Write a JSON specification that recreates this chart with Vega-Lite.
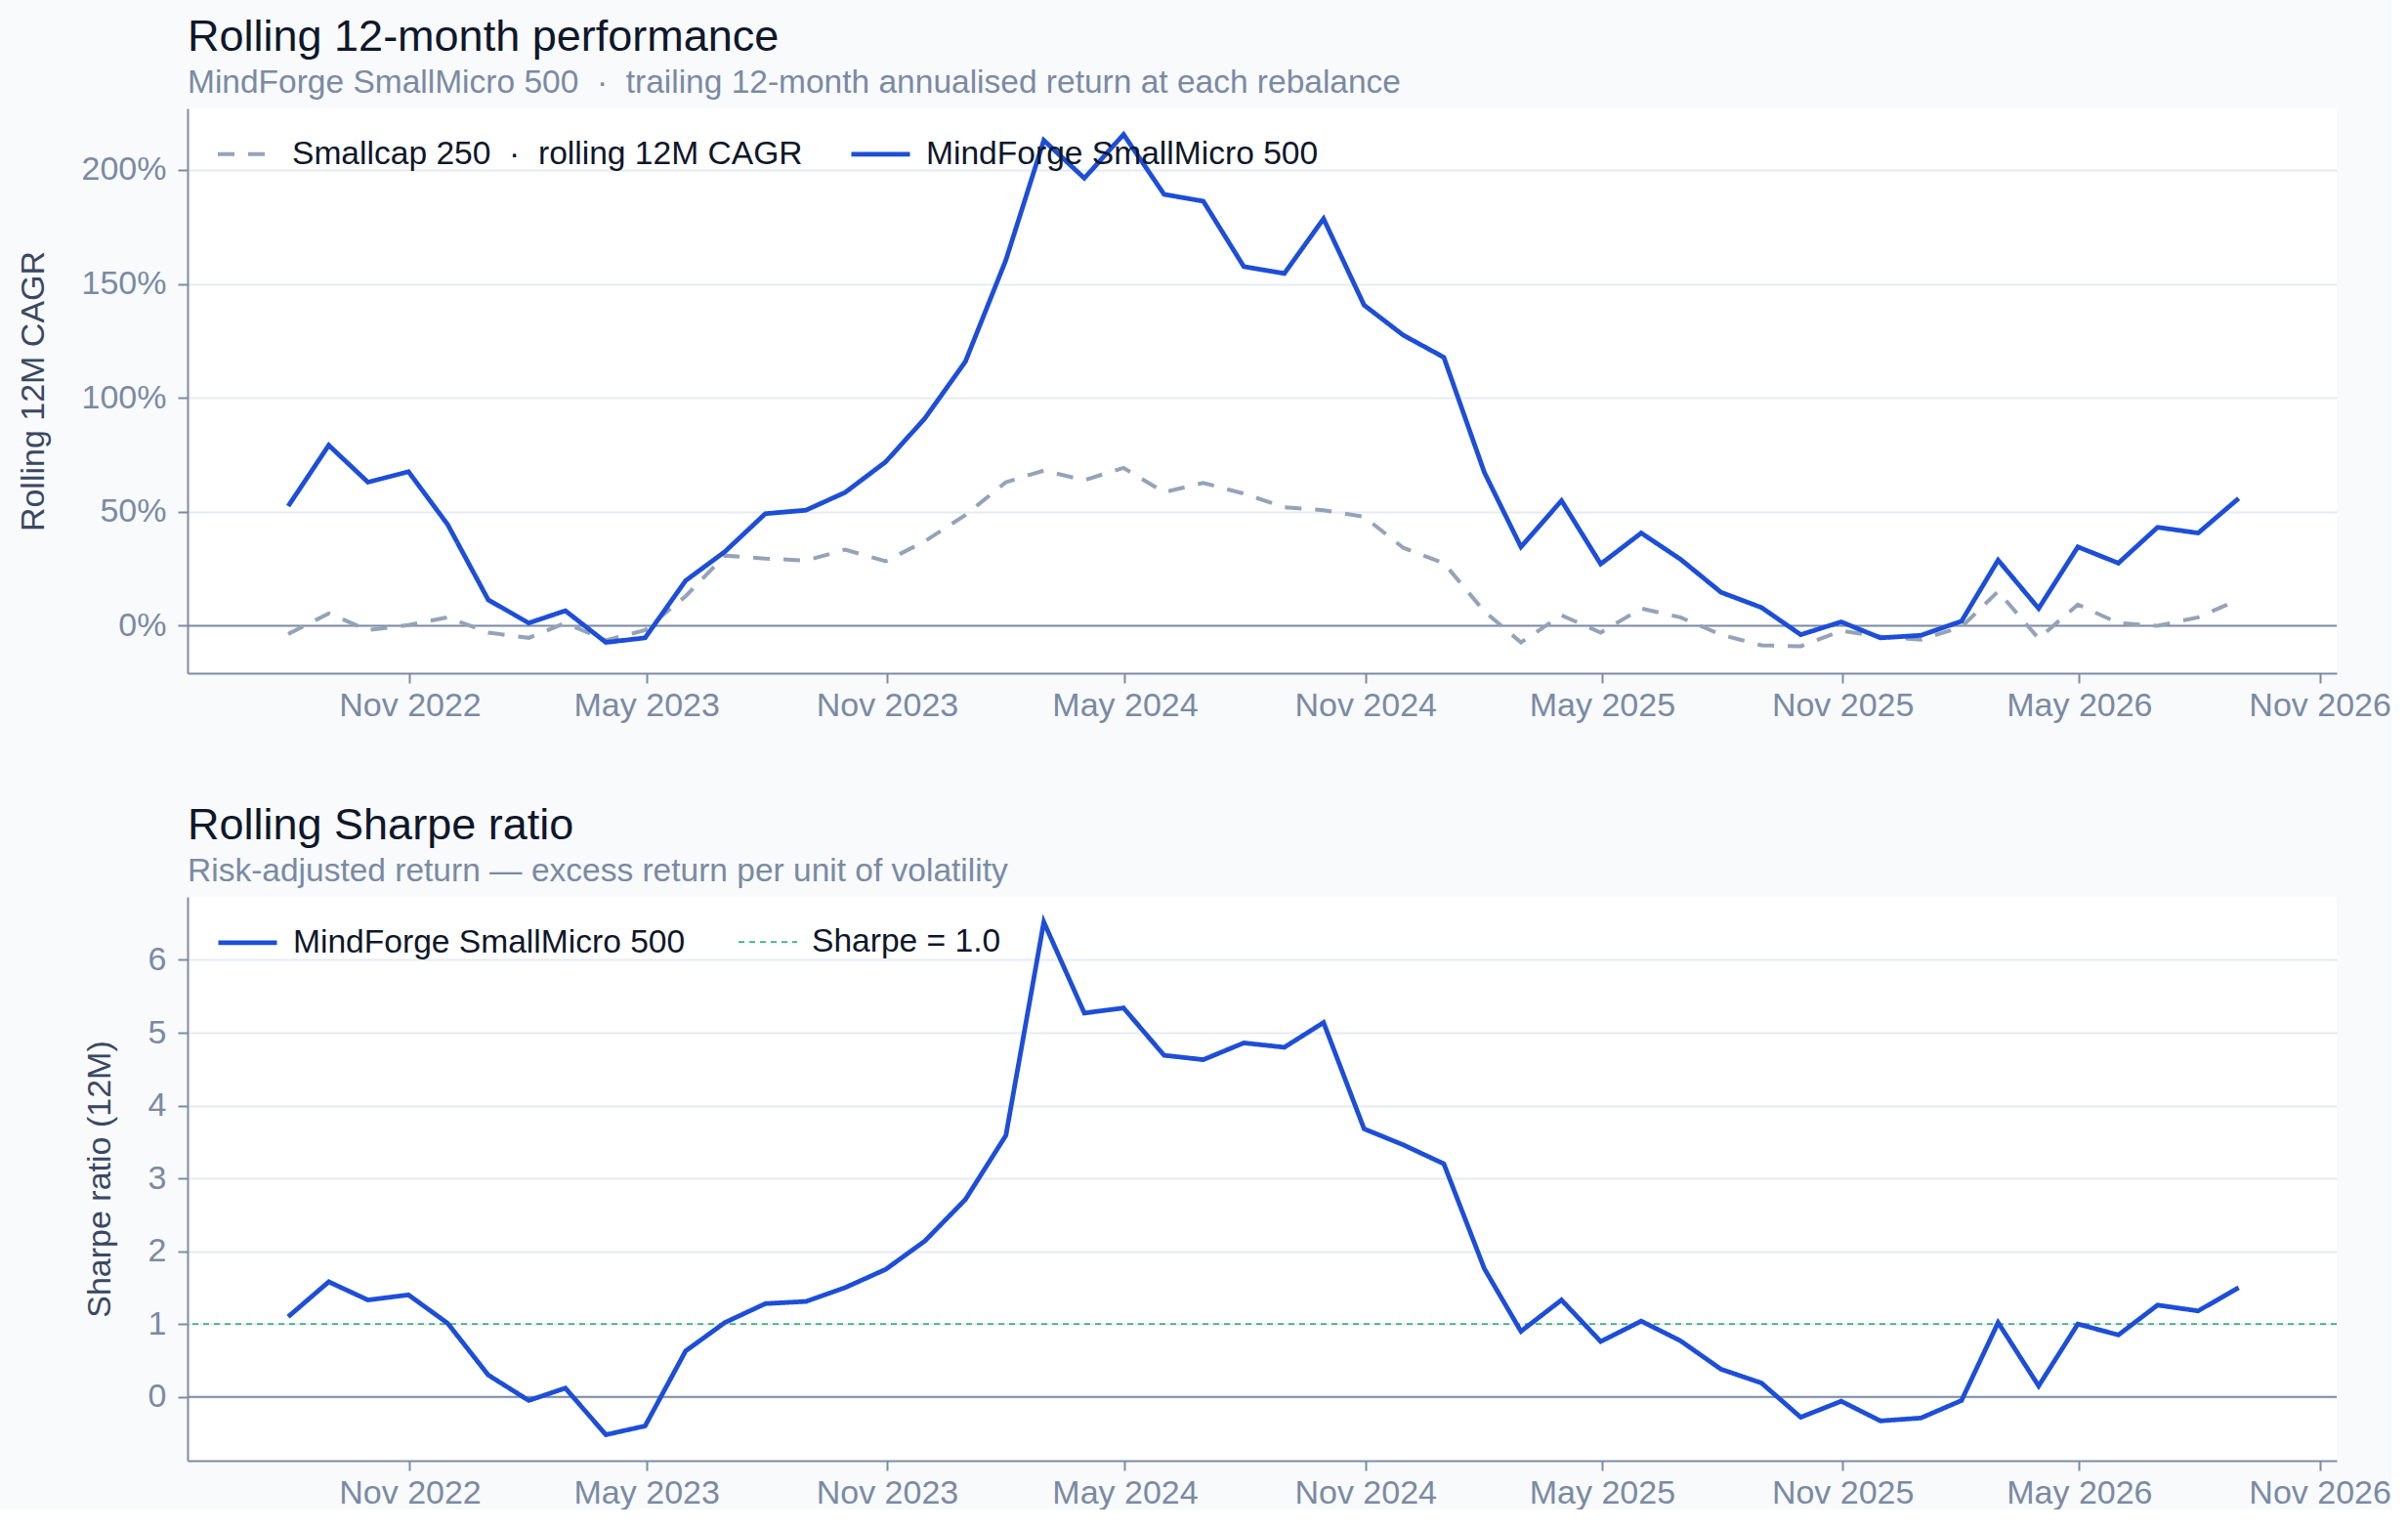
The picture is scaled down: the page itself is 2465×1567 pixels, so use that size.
{
  "$schema": "https://vega.github.io/schema/vega-lite/v6.json",
  "background": "#f8fafc",
  "padding": {"left": 17, "top": 15, "right": 0, "bottom": 0},
  "config": {
    "font": "Liberation Sans",
    "view": {"fill": "#ffffff", "stroke": null},
    "title": {"anchor": "start", "frame": "group", "fontSize": 45, "fontWeight": "normal", "color": "#0f172a", "subtitleFontSize": 33.5, "subtitleColor": "#7b8aa3", "subtitlePadding": 8, "offset": 10},
    "axis": {"domainColor": "#7e8ca3", "domainWidth": 2, "tickColor": "#7e8ca3", "tickWidth": 2, "tickSize": 10, "labelColor": "#7b8aa3", "labelFontSize": 34, "labelPadding": 12, "titleColor": "#3b4863", "titleFontSize": 34, "titleFontWeight": "normal", "titlePadding": 32, "gridColor": "#e6ebf2", "gridWidth": 2},
    "legend": {"title": null, "orient": "none", "legendX": 29, "legendY": 14, "direction": "horizontal", "symbolType": "stroke", "symbolSize": 3600, "labelFontSize": 33.6, "labelColor": "#0f172a", "labelOffset": 14, "columnPadding": 50, "labelLimit": 0},
    "concat": {"spacing": 83}
  },
  "resolve": {
    "scale": {"color": "independent", "strokeDash": "independent", "strokeWidth": "independent"},
    "legend": {"color": "independent", "strokeDash": "independent", "strokeWidth": "independent"}
  },
  "datasets": {
    "cagr": [
      {"date": "2022-07-31", "series": "Smallcap 250\u00a0\u00a0·\u00a0\u00a0rolling 12M CAGR", "value": -3.6},
      {"date": "2022-08-31", "series": "Smallcap 250\u00a0\u00a0·\u00a0\u00a0rolling 12M CAGR", "value": 5.4},
      {"date": "2022-09-30", "series": "Smallcap 250\u00a0\u00a0·\u00a0\u00a0rolling 12M CAGR", "value": -1.9},
      {"date": "2022-10-31", "series": "Smallcap 250\u00a0\u00a0·\u00a0\u00a0rolling 12M CAGR", "value": 0.3},
      {"date": "2022-11-30", "series": "Smallcap 250\u00a0\u00a0·\u00a0\u00a0rolling 12M CAGR", "value": 3.7},
      {"date": "2022-12-31", "series": "Smallcap 250\u00a0\u00a0·\u00a0\u00a0rolling 12M CAGR", "value": -3.0},
      {"date": "2023-01-31", "series": "Smallcap 250\u00a0\u00a0·\u00a0\u00a0rolling 12M CAGR", "value": -5.3},
      {"date": "2023-02-28", "series": "Smallcap 250\u00a0\u00a0·\u00a0\u00a0rolling 12M CAGR", "value": 1.2},
      {"date": "2023-03-31", "series": "Smallcap 250\u00a0\u00a0·\u00a0\u00a0rolling 12M CAGR", "value": -6.4},
      {"date": "2023-04-30", "series": "Smallcap 250\u00a0\u00a0·\u00a0\u00a0rolling 12M CAGR", "value": -1.9},
      {"date": "2023-05-31", "series": "Smallcap 250\u00a0\u00a0·\u00a0\u00a0rolling 12M CAGR", "value": 13.0},
      {"date": "2023-06-30", "series": "Smallcap 250\u00a0\u00a0·\u00a0\u00a0rolling 12M CAGR", "value": 30.8},
      {"date": "2023-07-31", "series": "Smallcap 250\u00a0\u00a0·\u00a0\u00a0rolling 12M CAGR", "value": 29.5},
      {"date": "2023-08-31", "series": "Smallcap 250\u00a0\u00a0·\u00a0\u00a0rolling 12M CAGR", "value": 28.6},
      {"date": "2023-09-30", "series": "Smallcap 250\u00a0\u00a0·\u00a0\u00a0rolling 12M CAGR", "value": 33.4},
      {"date": "2023-10-31", "series": "Smallcap 250\u00a0\u00a0·\u00a0\u00a0rolling 12M CAGR", "value": 28.3},
      {"date": "2023-11-30", "series": "Smallcap 250\u00a0\u00a0·\u00a0\u00a0rolling 12M CAGR", "value": 37.1},
      {"date": "2023-12-31", "series": "Smallcap 250\u00a0\u00a0·\u00a0\u00a0rolling 12M CAGR", "value": 48.6},
      {"date": "2024-01-31", "series": "Smallcap 250\u00a0\u00a0·\u00a0\u00a0rolling 12M CAGR", "value": 63.0},
      {"date": "2024-02-29", "series": "Smallcap 250\u00a0\u00a0·\u00a0\u00a0rolling 12M CAGR", "value": 68.1},
      {"date": "2024-03-31", "series": "Smallcap 250\u00a0\u00a0·\u00a0\u00a0rolling 12M CAGR", "value": 63.9},
      {"date": "2024-04-30", "series": "Smallcap 250\u00a0\u00a0·\u00a0\u00a0rolling 12M CAGR", "value": 69.3},
      {"date": "2024-05-31", "series": "Smallcap 250\u00a0\u00a0·\u00a0\u00a0rolling 12M CAGR", "value": 58.6},
      {"date": "2024-06-30", "series": "Smallcap 250\u00a0\u00a0·\u00a0\u00a0rolling 12M CAGR", "value": 62.7},
      {"date": "2024-07-31", "series": "Smallcap 250\u00a0\u00a0·\u00a0\u00a0rolling 12M CAGR", "value": 58.0},
      {"date": "2024-08-31", "series": "Smallcap 250\u00a0\u00a0·\u00a0\u00a0rolling 12M CAGR", "value": 52.0},
      {"date": "2024-09-30", "series": "Smallcap 250\u00a0\u00a0·\u00a0\u00a0rolling 12M CAGR", "value": 50.7},
      {"date": "2024-10-31", "series": "Smallcap 250\u00a0\u00a0·\u00a0\u00a0rolling 12M CAGR", "value": 47.8},
      {"date": "2024-11-30", "series": "Smallcap 250\u00a0\u00a0·\u00a0\u00a0rolling 12M CAGR", "value": 34.2},
      {"date": "2024-12-31", "series": "Smallcap 250\u00a0\u00a0·\u00a0\u00a0rolling 12M CAGR", "value": 27.5},
      {"date": "2025-01-31", "series": "Smallcap 250\u00a0\u00a0·\u00a0\u00a0rolling 12M CAGR", "value": 6.3},
      {"date": "2025-02-28", "series": "Smallcap 250\u00a0\u00a0·\u00a0\u00a0rolling 12M CAGR", "value": -7.3},
      {"date": "2025-03-31", "series": "Smallcap 250\u00a0\u00a0·\u00a0\u00a0rolling 12M CAGR", "value": 4.6},
      {"date": "2025-04-30", "series": "Smallcap 250\u00a0\u00a0·\u00a0\u00a0rolling 12M CAGR", "value": -3.0},
      {"date": "2025-05-31", "series": "Smallcap 250\u00a0\u00a0·\u00a0\u00a0rolling 12M CAGR", "value": 7.6},
      {"date": "2025-06-30", "series": "Smallcap 250\u00a0\u00a0·\u00a0\u00a0rolling 12M CAGR", "value": 3.7},
      {"date": "2025-07-31", "series": "Smallcap 250\u00a0\u00a0·\u00a0\u00a0rolling 12M CAGR", "value": -3.9},
      {"date": "2025-08-31", "series": "Smallcap 250\u00a0\u00a0·\u00a0\u00a0rolling 12M CAGR", "value": -8.6},
      {"date": "2025-09-30", "series": "Smallcap 250\u00a0\u00a0·\u00a0\u00a0rolling 12M CAGR", "value": -9.0},
      {"date": "2025-10-31", "series": "Smallcap 250\u00a0\u00a0·\u00a0\u00a0rolling 12M CAGR", "value": -2.2},
      {"date": "2025-11-30", "series": "Smallcap 250\u00a0\u00a0·\u00a0\u00a0rolling 12M CAGR", "value": -4.7},
      {"date": "2025-12-31", "series": "Smallcap 250\u00a0\u00a0·\u00a0\u00a0rolling 12M CAGR", "value": -6.1},
      {"date": "2026-01-31", "series": "Smallcap 250\u00a0\u00a0·\u00a0\u00a0rolling 12M CAGR", "value": -0.5},
      {"date": "2026-02-28", "series": "Smallcap 250\u00a0\u00a0·\u00a0\u00a0rolling 12M CAGR", "value": 15.1},
      {"date": "2026-03-31", "series": "Smallcap 250\u00a0\u00a0·\u00a0\u00a0rolling 12M CAGR", "value": -5.6},
      {"date": "2026-04-30", "series": "Smallcap 250\u00a0\u00a0·\u00a0\u00a0rolling 12M CAGR", "value": 9.3},
      {"date": "2026-05-31", "series": "Smallcap 250\u00a0\u00a0·\u00a0\u00a0rolling 12M CAGR", "value": 1.2},
      {"date": "2026-06-30", "series": "Smallcap 250\u00a0\u00a0·\u00a0\u00a0rolling 12M CAGR", "value": 0.0},
      {"date": "2026-07-31", "series": "Smallcap 250\u00a0\u00a0·\u00a0\u00a0rolling 12M CAGR", "value": 3.7},
      {"date": "2026-08-31", "series": "Smallcap 250\u00a0\u00a0·\u00a0\u00a0rolling 12M CAGR", "value": 11.4},
      {"date": "2022-07-31", "series": "MindForge SmallMicro 500", "value": 52.5},
      {"date": "2022-08-31", "series": "MindForge SmallMicro 500", "value": 79.2},
      {"date": "2022-09-30", "series": "MindForge SmallMicro 500", "value": 63.0},
      {"date": "2022-10-31", "series": "MindForge SmallMicro 500", "value": 67.6},
      {"date": "2022-11-30", "series": "MindForge SmallMicro 500", "value": 44.4},
      {"date": "2022-12-31", "series": "MindForge SmallMicro 500", "value": 11.4},
      {"date": "2023-01-31", "series": "MindForge SmallMicro 500", "value": 1.2},
      {"date": "2023-02-28", "series": "MindForge SmallMicro 500", "value": 6.6},
      {"date": "2023-03-31", "series": "MindForge SmallMicro 500", "value": -7.3},
      {"date": "2023-04-30", "series": "MindForge SmallMicro 500", "value": -5.3},
      {"date": "2023-05-31", "series": "MindForge SmallMicro 500", "value": 19.8},
      {"date": "2023-06-30", "series": "MindForge SmallMicro 500", "value": 32.5},
      {"date": "2023-07-31", "series": "MindForge SmallMicro 500", "value": 49.2},
      {"date": "2023-08-31", "series": "MindForge SmallMicro 500", "value": 50.7},
      {"date": "2023-09-30", "series": "MindForge SmallMicro 500", "value": 58.5},
      {"date": "2023-10-31", "series": "MindForge SmallMicro 500", "value": 71.9},
      {"date": "2023-11-30", "series": "MindForge SmallMicro 500", "value": 91.0},
      {"date": "2023-12-31", "series": "MindForge SmallMicro 500", "value": 115.9},
      {"date": "2024-01-31", "series": "MindForge SmallMicro 500", "value": 160.5},
      {"date": "2024-02-29", "series": "MindForge SmallMicro 500", "value": 213.0},
      {"date": "2024-03-31", "series": "MindForge SmallMicro 500", "value": 196.4},
      {"date": "2024-04-30", "series": "MindForge SmallMicro 500", "value": 215.6},
      {"date": "2024-05-31", "series": "MindForge SmallMicro 500", "value": 189.3},
      {"date": "2024-06-30", "series": "MindForge SmallMicro 500", "value": 186.3},
      {"date": "2024-07-31", "series": "MindForge SmallMicro 500", "value": 157.6},
      {"date": "2024-08-31", "series": "MindForge SmallMicro 500", "value": 154.6},
      {"date": "2024-09-30", "series": "MindForge SmallMicro 500", "value": 178.6},
      {"date": "2024-10-31", "series": "MindForge SmallMicro 500", "value": 140.7},
      {"date": "2024-11-30", "series": "MindForge SmallMicro 500", "value": 127.5},
      {"date": "2024-12-31", "series": "MindForge SmallMicro 500", "value": 117.8},
      {"date": "2025-01-31", "series": "MindForge SmallMicro 500", "value": 67.3},
      {"date": "2025-02-28", "series": "MindForge SmallMicro 500", "value": 34.6},
      {"date": "2025-03-31", "series": "MindForge SmallMicro 500", "value": 54.9},
      {"date": "2025-04-30", "series": "MindForge SmallMicro 500", "value": 27.1},
      {"date": "2025-05-31", "series": "MindForge SmallMicro 500", "value": 40.7},
      {"date": "2025-06-30", "series": "MindForge SmallMicro 500", "value": 29.2},
      {"date": "2025-07-31", "series": "MindForge SmallMicro 500", "value": 14.7},
      {"date": "2025-08-31", "series": "MindForge SmallMicro 500", "value": 8.0},
      {"date": "2025-09-30", "series": "MindForge SmallMicro 500", "value": -3.9},
      {"date": "2025-10-31", "series": "MindForge SmallMicro 500", "value": 1.7},
      {"date": "2025-11-30", "series": "MindForge SmallMicro 500", "value": -5.3},
      {"date": "2025-12-31", "series": "MindForge SmallMicro 500", "value": -4.2},
      {"date": "2026-01-31", "series": "MindForge SmallMicro 500", "value": 2.0},
      {"date": "2026-02-28", "series": "MindForge SmallMicro 500", "value": 28.8},
      {"date": "2026-03-31", "series": "MindForge SmallMicro 500", "value": 7.6},
      {"date": "2026-04-30", "series": "MindForge SmallMicro 500", "value": 34.6},
      {"date": "2026-05-31", "series": "MindForge SmallMicro 500", "value": 27.5},
      {"date": "2026-06-30", "series": "MindForge SmallMicro 500", "value": 43.2},
      {"date": "2026-07-31", "series": "MindForge SmallMicro 500", "value": 40.7},
      {"date": "2026-08-31", "series": "MindForge SmallMicro 500", "value": 55.9}
    ],
    "sharpe": [
      {"date": "2022-07-31", "series": "MindForge SmallMicro 500", "value": 1.10},
      {"date": "2022-08-31", "series": "MindForge SmallMicro 500", "value": 1.58},
      {"date": "2022-09-30", "series": "MindForge SmallMicro 500", "value": 1.33},
      {"date": "2022-10-31", "series": "MindForge SmallMicro 500", "value": 1.40},
      {"date": "2022-11-30", "series": "MindForge SmallMicro 500", "value": 1.01},
      {"date": "2022-12-31", "series": "MindForge SmallMicro 500", "value": 0.30},
      {"date": "2023-01-31", "series": "MindForge SmallMicro 500", "value": -0.05},
      {"date": "2023-02-28", "series": "MindForge SmallMicro 500", "value": 0.12},
      {"date": "2023-03-31", "series": "MindForge SmallMicro 500", "value": -0.52},
      {"date": "2023-04-30", "series": "MindForge SmallMicro 500", "value": -0.40},
      {"date": "2023-05-31", "series": "MindForge SmallMicro 500", "value": 0.63},
      {"date": "2023-06-30", "series": "MindForge SmallMicro 500", "value": 1.02},
      {"date": "2023-07-31", "series": "MindForge SmallMicro 500", "value": 1.28},
      {"date": "2023-08-31", "series": "MindForge SmallMicro 500", "value": 1.31},
      {"date": "2023-09-30", "series": "MindForge SmallMicro 500", "value": 1.50},
      {"date": "2023-10-31", "series": "MindForge SmallMicro 500", "value": 1.75},
      {"date": "2023-11-30", "series": "MindForge SmallMicro 500", "value": 2.14},
      {"date": "2023-12-31", "series": "MindForge SmallMicro 500", "value": 2.71},
      {"date": "2024-01-31", "series": "MindForge SmallMicro 500", "value": 3.59},
      {"date": "2024-02-29", "series": "MindForge SmallMicro 500", "value": 6.52},
      {"date": "2024-03-31", "series": "MindForge SmallMicro 500", "value": 5.27},
      {"date": "2024-04-30", "series": "MindForge SmallMicro 500", "value": 5.34},
      {"date": "2024-05-31", "series": "MindForge SmallMicro 500", "value": 4.69},
      {"date": "2024-06-30", "series": "MindForge SmallMicro 500", "value": 4.63},
      {"date": "2024-07-31", "series": "MindForge SmallMicro 500", "value": 4.86},
      {"date": "2024-08-31", "series": "MindForge SmallMicro 500", "value": 4.80},
      {"date": "2024-09-30", "series": "MindForge SmallMicro 500", "value": 5.14},
      {"date": "2024-10-31", "series": "MindForge SmallMicro 500", "value": 3.68},
      {"date": "2024-11-30", "series": "MindForge SmallMicro 500", "value": 3.46},
      {"date": "2024-12-31", "series": "MindForge SmallMicro 500", "value": 3.20},
      {"date": "2025-01-31", "series": "MindForge SmallMicro 500", "value": 1.76},
      {"date": "2025-02-28", "series": "MindForge SmallMicro 500", "value": 0.90},
      {"date": "2025-03-31", "series": "MindForge SmallMicro 500", "value": 1.33},
      {"date": "2025-04-30", "series": "MindForge SmallMicro 500", "value": 0.76},
      {"date": "2025-05-31", "series": "MindForge SmallMicro 500", "value": 1.04},
      {"date": "2025-06-30", "series": "MindForge SmallMicro 500", "value": 0.77},
      {"date": "2025-07-31", "series": "MindForge SmallMicro 500", "value": 0.38},
      {"date": "2025-08-31", "series": "MindForge SmallMicro 500", "value": 0.19},
      {"date": "2025-09-30", "series": "MindForge SmallMicro 500", "value": -0.28},
      {"date": "2025-10-31", "series": "MindForge SmallMicro 500", "value": -0.06},
      {"date": "2025-11-30", "series": "MindForge SmallMicro 500", "value": -0.33},
      {"date": "2025-12-31", "series": "MindForge SmallMicro 500", "value": -0.29},
      {"date": "2026-01-31", "series": "MindForge SmallMicro 500", "value": -0.05},
      {"date": "2026-02-28", "series": "MindForge SmallMicro 500", "value": 1.02},
      {"date": "2026-03-31", "series": "MindForge SmallMicro 500", "value": 0.15},
      {"date": "2026-04-30", "series": "MindForge SmallMicro 500", "value": 1.00},
      {"date": "2026-05-31", "series": "MindForge SmallMicro 500", "value": 0.85},
      {"date": "2026-06-30", "series": "MindForge SmallMicro 500", "value": 1.26},
      {"date": "2026-07-31", "series": "MindForge SmallMicro 500", "value": 1.18},
      {"date": "2026-08-31", "series": "MindForge SmallMicro 500", "value": 1.50}
    ]
  },
  "vconcat": [
    {
      "title": {"text": "Rolling 12-month performance", "subtitle": "MindForge SmallMicro 500\u00a0\u00a0·\u00a0\u00a0trailing 12-month annualised return at each rebalance"},
      "width": 2200,
      "height": 578,
      "encoding": {
        "y": {"field": "value", "type": "quantitative", "scale": {"domain": [-20.8, 227], "nice": false, "zero": false}, "axis": {"title": "Rolling 12M CAGR", "values": [0, 50, 100, 150, 200], "labelExpr": "datum.value + '%'", "grid": true}}
      },
      "layer": [
        {
          "data": {"values": [{"value": 0}]},
          "mark": {"type": "rule", "color": "#7e8ca3", "strokeWidth": 2},
          "encoding": {}
        },
        {
          "data": {"name": "cagr"},
          "mark": {"type": "line", "strokeCap": "butt"},
          "encoding": {
            "x": {"field": "date", "type": "temporal", "scale": {"type": "utc", "domain": [{"year": 2022, "month": 5, "date": 15, "utc": true}, {"year": 2026, "month": 11, "date": 14, "utc": true}]}, "axis": {"title": null, "grid": false, "format": "%b %Y", "labelPadding": 6, "values": [{"year": 2022, "month": 11, "date": 1, "utc": true}, {"year": 2023, "month": 5, "date": 1, "utc": true}, {"year": 2023, "month": 11, "date": 1, "utc": true}, {"year": 2024, "month": 5, "date": 1, "utc": true}, {"year": 2024, "month": 11, "date": 1, "utc": true}, {"year": 2025, "month": 5, "date": 1, "utc": true}, {"year": 2025, "month": 11, "date": 1, "utc": true}, {"year": 2026, "month": 5, "date": 1, "utc": true}, {"year": 2026, "month": 11, "date": 1, "utc": true}]}},
            "color": {"field": "series", "type": "nominal", "scale": {"domain": ["Smallcap 250\u00a0\u00a0·\u00a0\u00a0rolling 12M CAGR", "MindForge SmallMicro 500"], "range": ["#94a3b8", "#1d4ed8"]}, "legend": {"columnPadding": 39}},
            "strokeDash": {"field": "series", "type": "nominal", "scale": {"domain": ["Smallcap 250\u00a0\u00a0·\u00a0\u00a0rolling 12M CAGR", "MindForge SmallMicro 500"], "range": [[17, 14], [1, 0]]}, "legend": {"columnPadding": 39}},
            "strokeWidth": {"field": "series", "type": "nominal", "scale": {"type": "ordinal", "domain": ["Smallcap 250\u00a0\u00a0·\u00a0\u00a0rolling 12M CAGR", "MindForge SmallMicro 500"], "range": [4.0, 4.8]}, "legend": {"columnPadding": 39}}
          }
        }
      ]
    },
    {
      "title": {"text": "Rolling Sharpe ratio", "subtitle": "Risk-adjusted return — excess return per unit of volatility"},
      "width": 2200,
      "height": 577,
      "encoding": {
        "y": {"field": "value", "type": "quantitative", "scale": {"domain": [-0.876, 6.865], "nice": false, "zero": false}, "axis": {"title": "Sharpe ratio (12M)", "values": [0, 1, 2, 3, 4, 5, 6], "format": "d", "grid": true}}
      },
      "layer": [
        {
          "data": {"values": [{"value": 0}]},
          "mark": {"type": "rule", "color": "#7e8ca3", "strokeWidth": 2},
          "encoding": {}
        },
        {
          "data": {"values": [{"series": "Sharpe = 1.0", "value": 1}]},
          "mark": {"type": "rule", "strokeCap": "butt"},
          "encoding": {
            "color": {"field": "series", "type": "nominal", "scale": {"domain": ["MindForge SmallMicro 500", "Sharpe = 1.0"], "range": ["#1d4ed8", "#3cb57c"]}},
            "strokeDash": {"field": "series", "type": "nominal", "scale": {"domain": ["MindForge SmallMicro 500", "Sharpe = 1.0"], "range": [[1, 0], [6, 5]]}},
            "strokeWidth": {"field": "series", "type": "nominal", "scale": {"type": "ordinal", "domain": ["MindForge SmallMicro 500", "Sharpe = 1.0"], "range": [4.8, 1.7]}}
          }
        },
        {
          "data": {"name": "sharpe"},
          "mark": {"type": "line", "strokeCap": "butt"},
          "encoding": {
            "x": {"field": "date", "type": "temporal", "scale": {"type": "utc", "domain": [{"year": 2022, "month": 5, "date": 15, "utc": true}, {"year": 2026, "month": 11, "date": 14, "utc": true}]}, "axis": {"title": null, "grid": false, "format": "%b %Y", "labelPadding": 6, "values": [{"year": 2022, "month": 11, "date": 1, "utc": true}, {"year": 2023, "month": 5, "date": 1, "utc": true}, {"year": 2023, "month": 11, "date": 1, "utc": true}, {"year": 2024, "month": 5, "date": 1, "utc": true}, {"year": 2024, "month": 11, "date": 1, "utc": true}, {"year": 2025, "month": 5, "date": 1, "utc": true}, {"year": 2025, "month": 11, "date": 1, "utc": true}, {"year": 2026, "month": 5, "date": 1, "utc": true}, {"year": 2026, "month": 11, "date": 1, "utc": true}]}},
            "color": {"field": "series", "type": "nominal", "scale": {"domain": ["MindForge SmallMicro 500", "Sharpe = 1.0"], "range": ["#1d4ed8", "#3cb57c"]}},
            "strokeDash": {"field": "series", "type": "nominal", "scale": {"domain": ["MindForge SmallMicro 500", "Sharpe = 1.0"], "range": [[1, 0], [6, 5]]}},
            "strokeWidth": {"field": "series", "type": "nominal", "scale": {"type": "ordinal", "domain": ["MindForge SmallMicro 500", "Sharpe = 1.0"], "range": [4.8, 1.7]}}
          }
        }
      ]
    }
  ]
}
